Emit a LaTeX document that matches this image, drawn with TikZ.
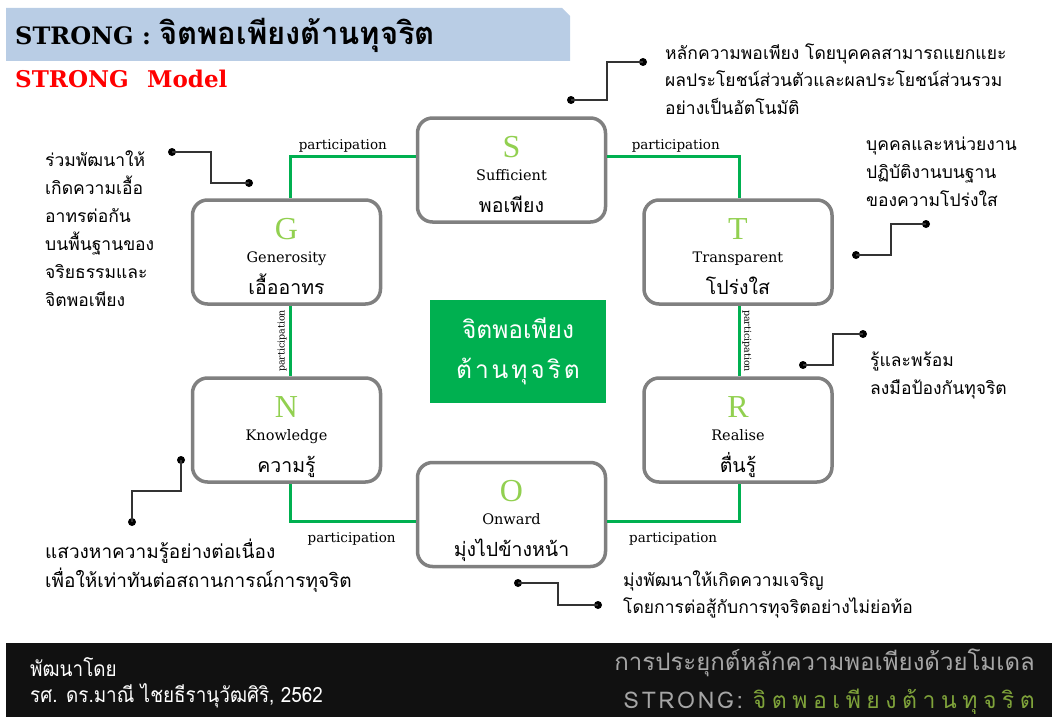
\documentclass[tikz,border=0pt]{standalone}
\usepackage{fontspec}
\setmainfont{DejaVu Serif}
\newfontfamily\thaifont[Script=Thai]{Loma}
\newfontfamily\thaicond[Script=Thai, FakeStretch=0.9]{Loma}
\newfontfamily\lettfont{Liberation Serif}
\usetikzlibrary{positioning}

\definecolor{boxgray}{HTML}{808080}
\definecolor{linkgreen}{HTML}{00B050}
\definecolor{lettgreen}{HTML}{92D050}
\definecolor{headblue}{HTML}{B9CDE5}
\definecolor{barblack}{HTML}{111111}
\definecolor{footgray}{HTML}{A6A6A6}
\definecolor{footgreen}{HTML}{7FA33A}

\begin{document}
\begin{tikzpicture}[x=1pt, y=-1pt, on grid,
	box/.style={draw=boxgray, line width=3.5pt, rounded corners=15pt, fill=white, minimum width=188pt, minimum height=104pt},
	lett/.style={anchor=base, inner sep=0pt, text=lettgreen, font=\lettfont\fontsize{32}{32}\selectfont},
	eng/.style={anchor=base, inner sep=0pt, font=\fontsize{14.5}{15}\selectfont},
	thai/.style={anchor=base, inner sep=0pt, font=\thaifont\fontsize{19.5}{20}\selectfont},
	link/.style={draw=linkgreen, line width=3pt},
	part/.style={inner sep=2pt, font=\fontsize{13.5}{14}\selectfont},
	vpart/.style={inner sep=2pt, anchor=south, font=\fontsize{9.5}{10}\selectfont},
	call/.style={draw=black!80, line width=1.3pt},
	dot/.style={circle, fill=black, inner sep=0pt, minimum size=8pt},
	note/.style={anchor=base west, inner sep=0pt, align=left, font=\thaifont\fontsize{17.5}{28}\selectfont}]
	\useasboundingbox (0,0) rectangle (1052,717);

	% header
	\fill[headblue] (6,8) -- (562,8) -- (570,16) -- (570,61) -- (6,61) -- cycle;
	\node[anchor=base west, inner sep=0pt, font=\bfseries\fontsize{24}{25}\selectfont] (title) at (15,45) {STRONG : {\thaifont\fontsize{31}{32}\selectfont จิตพอเพียงต้านทุจริต}};
	\node[anchor=base west, inner sep=0pt, text=red, font=\bfseries\fontsize{23}{24}\selectfont] (model) at (15,88) {STRONG\hspace{0.8em}Model};

	% boxes
	\node[box] (S) at (511.5,170) {};
	\node[box, below right=82pt and 226.5pt of S] (T) {};
	\node[box, below left=82pt and 225pt of S] (G) {};
	\node[box, below=178pt of G] (N) {};
	\node[box, below=178pt of T] (R) {};
	\node[box, below=344.5pt of S] (O) {};

	\node[lett] (S-l) at ([yshift=13pt]S.center) {S};
	\node[eng] (S-e) at ([yshift=-10pt]S.center) {Sufficient};
	\node[thai] (S-t) at ([yshift=-42pt]S.center) {พอเพียง};
	\node[lett] (T-l) at ([yshift=13pt]T.center) {T};
	\node[eng] (T-e) at ([yshift=-10pt]T.center) {Transparent};
	\node[thai] (T-t) at ([yshift=-42pt]T.center) {โปร่งใส};
	\node[lett] (G-l) at ([yshift=13pt]G.center) {G};
	\node[eng] (G-e) at ([yshift=-10pt]G.center) {Generosity};
	\node[thai] (G-t) at ([yshift=-42pt]G.center) {เอื้ออาทร};
	\node[lett] (N-l) at ([yshift=13pt]N.center) {N};
	\node[eng] (N-e) at ([yshift=-10pt]N.center) {Knowledge};
	\node[thai] (N-t) at ([yshift=-42pt]N.center) {ความรู้};
	\node[lett] (R-l) at ([yshift=13pt]R.center) {R};
	\node[eng] (R-e) at ([yshift=-10pt]R.center) {Realise};
	\node[thai] (R-t) at ([yshift=-42pt]R.center) {ตื่นรู้};
	\node[lett] (O-l) at ([yshift=13pt]O.center) {O};
	\node[eng] (O-e) at ([yshift=-10pt]O.center) {Onward};
	\node[thai] (O-t) at ([yshift=-42pt]O.center) {มุ่งไปข้างหน้า};

	\node[fill=linkgreen, minimum width=176pt, minimum height=103pt, text=white, align=center, font=\thaifont\fontsize{24.5}{40}\selectfont] (core) at (518,351.5) {จิตพอเพียง\\{\addfontfeatures{LetterSpace=12}ต้านทุจริต}};

	% participation links
	\draw[link] ([yshift=14pt]S.west) -| node[part, above, pos=0.29] (p1) {participation} ([xshift=3.5pt]G.north);
	\draw[link] ([yshift=14pt]S.east) -| node[part, above, pos=0.26] (p2) {participation} ([xshift=1pt]T.north);
	\draw[link] ([xshift=3.5pt]G.south) -- node[vpart, rotate=90] (p3) {participation} ([xshift=3.5pt]N.north);
	\draw[link] ([xshift=1pt]T.south) -- node[vpart, rotate=-90] (p4) {participation} ([xshift=1pt]R.north);
	\draw[link] ([xshift=3.5pt]N.south) |- node[part, below=8pt, pos=0.745] (p5) {participation} ([yshift=-7pt]O.west);
	\draw[link] ([yshift=-7pt]O.east) -| node[part, below=8pt, pos=0.25] (p6) {participation} ([xshift=1pt]R.south);

	% callouts
	\node[dot] (t1) at (643,62) {};
	\node[dot] (t2) at (571,100) {};
	\coordinate (tk) at (607,80);
	\draw[call] (t1.center) -| (tk) |- (t2.center);
	\node[dot] (a1) at (926,224) {};
	\node[dot] (a2) at (856,255) {};
	\coordinate (ak) at (891,240);
	\draw[call] (a1.center) -| (ak) |- (a2.center);
	\node[dot] (b1) at (863,334) {};
	\node[dot] (b2) at (803,365) {};
	\coordinate (bk) at (833,350);
	\draw[call] (b1.center) -| (bk) |- (b2.center);
	\node[dot] (c1) at (172,152) {};
	\node[dot] (c2) at (249,183) {};
	\coordinate (ck) at (211,168);
	\draw[call] (c1.center) -| (ck) |- (c2.center);
	\node[dot] (d1) at (181,460) {};
	\node[dot] (d2) at (132,522) {};
	\coordinate (dk) at (156,491);
	\draw[call] (d1.center) |- (dk) -| (d2.center);
	\node[dot] (e1) at (518,583) {};
	\node[dot] (e2) at (598,605) {};
	\coordinate (ek) at (558,594);
	\draw[call] (e1.center) -| (ek) |- (e2.center);

	% notes (base = last line)
	\node[note, font=\thaifont\fontsize{17.5}{27.5}\selectfont] (n1) at (665,114) {หลักความพอเพียง โดยบุคคลสามารถแยกแยะ\\ผลประโยชน์ส่วนตัวและผลประโยชน์ส่วนรวม\\อย่างเป็นอัตโนมัติ};
	\node[note] (n2) at (866,206) {บุคคลและหน่วยงาน\\ปฏิบัติงานบนฐาน\\ของความโปร่งใส};
	\node[note] (n3) at (870,394) {รู้และพร้อม\\ลงมือป้องกันทุจริต};
	\node[note] (n4) at (45,306) {ร่วมพัฒนาให้\\เกิดความเอื้อ\\อาทรต่อกัน\\บนพื้นฐานของ\\จริยธรรมและ\\จิตพอเพียง};
	\node[note, font=\thaifont\fontsize{19}{29}\selectfont] (n5) at (45,587) {แสวงหาความรู้อย่างต่อเนื่อง\\เพื่อให้เท่าทันต่อสถานการณ์การทุจริต};
	\node[note, font=\thaifont\fontsize{17.5}{27}\selectfont] (n6) at (623,613) {มุ่งพัฒนาให้เกิดความเจริญ\\โดยการต่อสู้กับการทุจริตอย่างไม่ย่อท้อ};

	% footer
	\fill[barblack] (6,643) rectangle (1052,717);
	\node[anchor=base west, inner sep=0pt, text=white, font=\thaicond\fontsize{21}{22}\selectfont] (by) at (30,676) {พัฒนาโดย};
	\node[anchor=base west, inner sep=0pt, text=white, font=\thaicond\fontsize{21}{22}\selectfont] (author) at (30,702) {รศ. ดร.มาณี ไชยธีรานุวัฒศิริ, 2562};
	\node[anchor=base east, inner sep=0pt, text=footgray, font=\thaifont\fontsize{24}{26}\selectfont] (sub1) at (1035,670) {การประยุกต์หลักความพอเพียงด้วยโมเดล};
	\node[anchor=base east, inner sep=0pt, font=\thaifont\fontsize{23}{26}\selectfont] (sub2) at (1035,708) {{\color{footgray}\addfontfeatures{LetterSpace=12}STRONG:}\hspace{10pt}{\color{footgreen}\addfontfeatures{LetterSpace=24}จิตพอเพียงต้านทุจริต}};
\end{tikzpicture}
\end{document}
